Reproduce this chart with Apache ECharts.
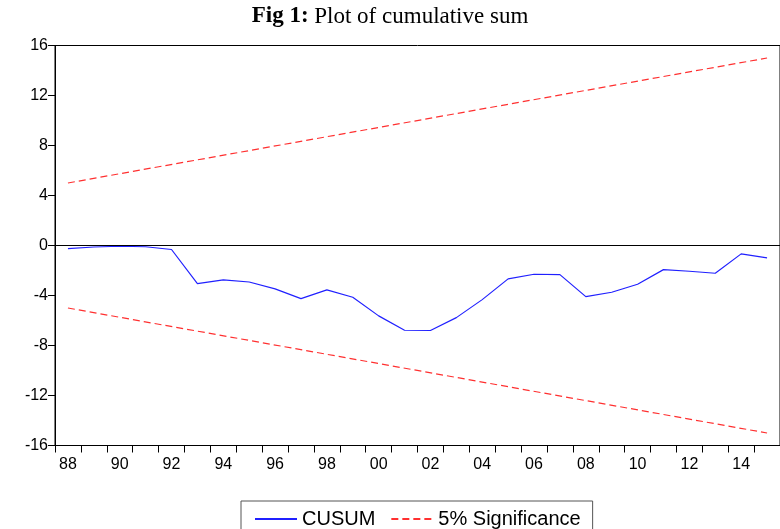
<!DOCTYPE html>
<html>
<head>
<meta charset="utf-8">
<script src="https://cdn.jsdelivr.net/npm/echarts@6/dist/echarts.min.js"></script>
<style>
html,body{margin:0;padding:0;background:#fff;}
#chart{width:780px;height:529px;}
</style>
</head>
<body>
<div id="chart"></div>
<script>
var years = ['88','89','90','91','92','93','94','95','96','97','98','99','00','01','02','03','04','05','06','07','08','09','10','11','12','13','14','15'];
var cusum = [-0.25,-0.12,-0.06,-0.1,-0.32,-3.05,-2.75,-2.92,-3.47,-4.25,-3.55,-4.14,-5.63,-6.78,-6.8,-5.77,-4.33,-2.67,-2.3,-2.33,-4.09,-3.74,-3.1,-1.93,-2.06,-2.22,-0.67,-0.99];
var upper = [['88',5],['15',15]];
var lower = [['88',-5],['15',-15]];
var yTicks = {min:-16, max:16, step:4};

var chart = echarts.init(document.getElementById('chart'));
chart.setOption({
  animation:false,
  backgroundColor:'#fff',
  title:{
    text:'{b|Fig 1:} Plot of cumulative sum',
    left:'center', top:0,
    textStyle:{fontFamily:'Liberation Serif', fontSize:23, fontWeight:'normal', color:'#000',
      rich:{b:{fontFamily:'Liberation Serif', fontSize:23, fontWeight:'bold', color:'#000'}}}
  },
  grid:{left:55, top:45.5, width:735, height:400, show:true, borderColor:'#000', borderWidth:1},
  legend:{
    left:241, top:501,
    data:['CUSUM','5% Significance'],
    itemWidth:42, itemHeight:12, itemGap:15,
    padding:[8,12,30,13],
    borderColor:'#555', borderWidth:1, borderRadius:0,
    itemStyle:{opacity:0, borderWidth:0},
    textStyle:{fontFamily:'Liberation Sans', fontSize:20, color:'#000'}
  },
  xAxis:{
    type:'category', data:years, boundaryGap:true,
    axisLine:{onZero:false, lineStyle:{color:'#000', width:1}},
    axisTick:{show:true, interval:0, length:7, inside:false, alignWithLabel:false, lineStyle:{color:'#000'}},
    axisLabel:{interval:1, margin:11, fontFamily:'Liberation Sans', fontSize:16, color:'#000'},
    splitLine:{show:false}
  },
  yAxis:{
    type:'value', min:yTicks.min, max:yTicks.max, interval:yTicks.step,
    axisLine:{show:true, lineStyle:{color:'#000', width:1}},
    axisTick:{show:true, length:7, lineStyle:{color:'#000'}},
    axisLabel:{margin:7, fontFamily:'Liberation Sans', fontSize:16, color:'#000'},
    splitLine:{show:false}
  },
  series:[
    {name:'CUSUM', type:'line', data:cusum, symbol:'none', showSymbol:false,
     lineStyle:{color:'#2020ff', width:1.2}, itemStyle:{color:'#2020ff'},
     markLine:{silent:true, symbol:'none', label:{show:false},
       lineStyle:{color:'#000', type:'solid', width:1.2}, data:[{yAxis:0}]}},
    {name:'5% Significance', type:'line', data:upper, symbol:'none', showSymbol:false,
     lineStyle:{color:'#ff3030', width:1.2, type:[7,4]}, itemStyle:{color:'#ff3030'}},
    {name:'5% Significance', type:'line', data:lower, symbol:'none', showSymbol:false,
     lineStyle:{color:'#ff3030', width:1.2, type:[7,4]}, itemStyle:{color:'#ff3030'}}
  ]
});
</script>
</body>
</html>
